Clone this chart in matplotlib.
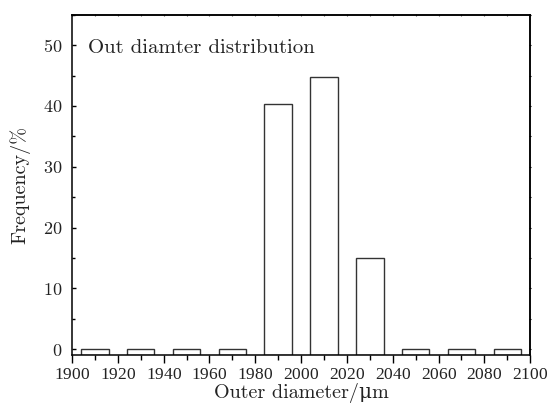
import matplotlib
matplotlib.use("Agg")
import matplotlib.pyplot as plt
import numpy as np
from matplotlib.ticker import MultipleLocator

# Outer diameter histogram (bin centres in um, frequency in %)
bin_centers = [1910, 1930, 1950, 1970, 1990, 2010, 2030, 2050, 2070, 2090]
frequency = [0, 0, 0, 0, 40.4, 44.7, 15.0, 0, 0, 0]
bar_width = 12
y_floor = -1

plt.rcParams['font.family'] = ['cmr10', 'DejaVu Serif']
plt.rcParams['axes.formatter.use_mathtext'] = True
plt.rcParams['mathtext.fontset'] = 'cm'
plt.rcParams['text.color'] = '#222222'
plt.rcParams['axes.labelcolor'] = '#222222'

fig = plt.figure(figsize=(5.54, 4.12), dpi=100)
ax = fig.add_axes([0.130, 0.138, 0.827, 0.826])

heights = np.array(frequency) - y_floor
ax.bar(bin_centers, heights, width=bar_width, bottom=y_floor,
       facecolor='white', edgecolor='#333333', linewidth=1.0, zorder=2)

ax.set_xlim(1900, 2100)
ax.set_ylim(-1, 55)

ax.xaxis.set_major_locator(MultipleLocator(20))
ax.xaxis.set_minor_locator(MultipleLocator(10))
ax.yaxis.set_major_locator(MultipleLocator(10))
ax.yaxis.set_minor_locator(MultipleLocator(5))

ax.tick_params(axis='x', which='major', direction='out', length=5.5, width=1.0,
               labelsize=12.5, top=False, pad=3, labelcolor='#222222')
ax.tick_params(axis='x', which='minor', direction='out', length=3.5, width=1.0,
               top=False)
ax.tick_params(axis='y', which='major', direction='in', length=3.2, width=1.0,
               labelsize=13, right=False, pad=7, labelcolor='#222222')
ax.tick_params(axis='y', which='minor', direction='in', length=2.5, width=1.0,
               right=False)
for lbl in ax.get_xticklabels():
    lbl.set_family(['Liberation Serif', 'DejaVu Serif'])

# small ticks along the top and right edges
top = ax.secondary_xaxis('top')
top.xaxis.set_major_locator(MultipleLocator(10))
top.tick_params(direction='inout', length=1.5, width=0.8, labeltop=False,
                colors='#555555')
right = ax.secondary_yaxis('right')
right.yaxis.set_major_locator(MultipleLocator(5))
right.tick_params(direction='inout', length=2, width=0.8, labelright=False)

for sp in ax.spines.values():
    sp.set_linewidth(1.1)
top.spines['top'].set_linewidth(1.1)
right.spines['right'].set_linewidth(1.1)

ax.set_xlabel('Outer diameter/μm', fontsize=14.5, labelpad=0)
ax.set_ylabel('Frequency/%', fontsize=14.5, labelpad=9)

ax.text(1907, 49.6, 'Out diamter distribution', fontsize=15,
        ha='left', va='center')

fig.savefig('out.png', dpi=100)
